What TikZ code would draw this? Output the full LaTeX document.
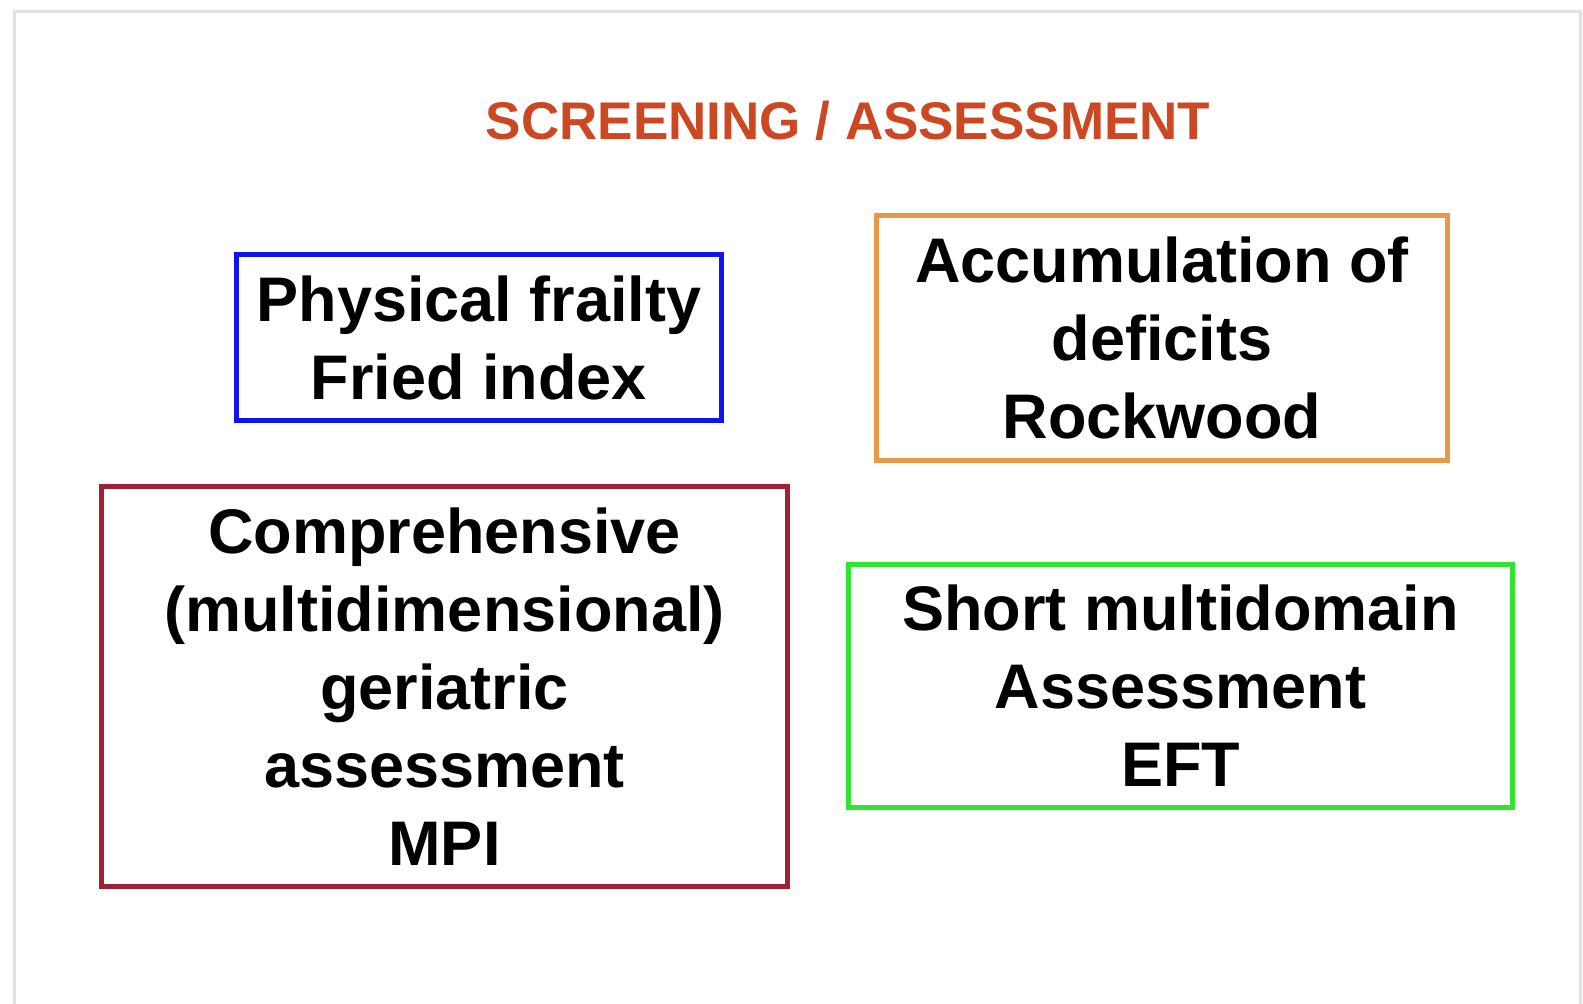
\documentclass[tikz,border=0pt]{standalone}
\usepackage{fontspec}
\setmainfont{Liberation Sans}
\usepackage{xcolor}
\usetikzlibrary{positioning}

\definecolor{titlered}{RGB}{204,72,34}
\definecolor{boxblue}{RGB}{18,18,238}
\definecolor{boxorange}{RGB}{232,152,72}
\definecolor{boxred}{RGB}{160,32,52}
\definecolor{boxgreen}{RGB}{48,228,48}
\definecolor{framegray}{RGB}{226,226,226}

\begin{document}
\begin{tikzpicture}[x=0.5pt, y=-0.5pt,
  toolbox/.style={draw, line width=2.5pt, inner sep=0pt, align=center,
    font=\fontsize{31.5}{39}\selectfont\bfseries}]
\useasboundingbox (0,0) rectangle (1583,1004);

% page frame
\draw[framegray, line width=1.5pt] (14,1004) -- (14,12) -- (1580,12) -- (1580,1004);

% heading
\node[text=titlered, font=\fontsize{26.5}{32}\selectfont\bfseries] (title) at (848,121) {SCREENING / ASSESSMENT};

% screening tools
\node[toolbox, boxblue, text=black, minimum width=242.5pt, minimum height=83pt] (fried) at (479,337.5)
  {Physical frailty\\Fried index};
\node[toolbox, boxorange, text=black, minimum width=285.5pt, minimum height=122.5pt] (rockwood) at (1162,338)
  {Accumulation of\\deficits\\Rockwood};
\node[toolbox, boxred, text=black, minimum width=343pt, minimum height=200pt] (mpi) at (444.5,686.5)
  {Comprehensive\\(multidimensional)\\geriatric\\assessment\\MPI};
\node[toolbox, boxgreen, text=black, minimum width=332pt, minimum height=121.5pt] (eft) at (1180.5,686)
  {Short multidomain\\Assessment\\EFT};
\end{tikzpicture}
\end{document}
